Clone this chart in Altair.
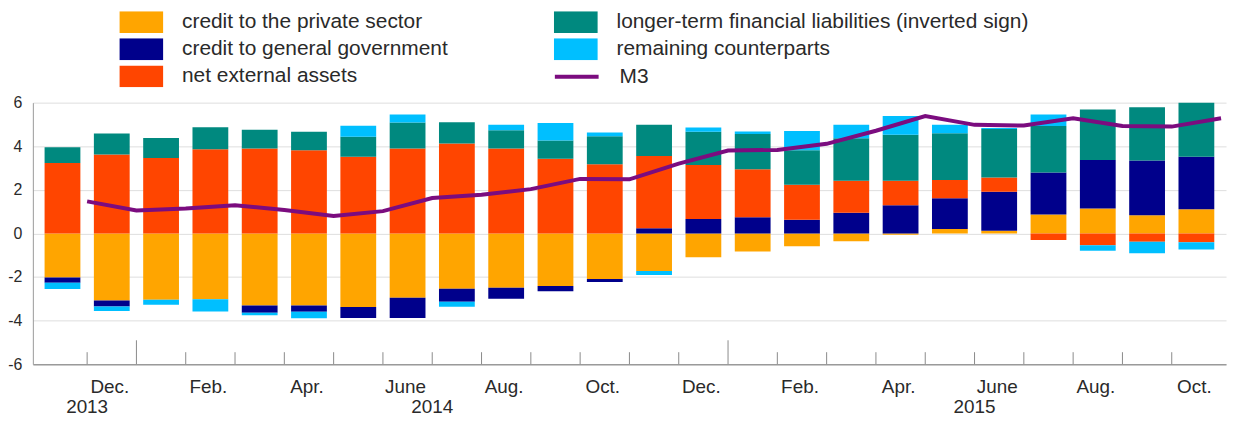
import altair as alt
import pandas as pd

# ---------------- data ----------------
months = ["Nov.", "Dec.", "Jan.", "Feb.", "Mar.", "Apr.", "May", "June", "July", "Aug.", "Sep.", "Oct.",
          "Nov.", "Dec.", "Jan.", "Feb.", "Mar.", "Apr.", "May", "June", "July", "Aug.", "Sep.", "Oct."]
years = [2013, 2013] + [2014] * 12 + [2015] * 10

series_names = [
    "credit to the private sector",
    "credit to general government",
    "net external assets",
    "longer-term financial liabilities (inverted sign)",
    "remaining counterparts",
]
private = [-2.03, -3.08, -3.05, -3.02, -3.31, -3.31, -3.38, -2.95, -2.54, -2.50, -2.41, -2.09,
           -1.73, -1.10, -0.83, -0.59, -0.36, -0.06, 0.20, 0.12, 0.87, 1.14, 0.83, 1.11]
government = [-0.23, -0.27, 0.0, 0.0, -0.33, -0.29, -0.50, -0.93, -0.60, -0.50, -0.24, -0.14,
              0.24, 0.66, 0.74, 0.62, 0.95, 1.29, 1.41, 1.79, 1.92, 2.23, 2.51, 2.41]
external = [3.23, 3.62, 3.46, 3.86, 3.89, 3.82, 3.52, 3.89, 4.12, 3.89, 3.43, 3.17,
            3.31, 2.48, 2.20, 1.61, 1.47, 1.13, 0.84, 0.65, -0.30, -0.54, -0.38, -0.41]
longer_term = [0.72, 0.96, 0.92, 1.01, 0.86, 0.84, 0.92, 1.20, 0.98, 0.84, 0.83, 1.29,
               1.43, 1.52, 1.62, 1.58, 1.94, 2.11, 2.15, 2.23, 2.14, 2.32, 2.45, 2.47]
remaining = [-0.29, -0.21, -0.23, -0.57, -0.12, -0.29, 0.50, 0.36, -0.23, 0.26, 0.81, 0.17,
             -0.18, 0.20, 0.11, 0.89, 0.63, 0.86, 0.39, 0.05, 0.53, -0.26, -0.53, -0.33]
m3_name = "M3"
m3 = [1.47, 1.05, 1.14, 1.29, 1.07, 0.80, 1.02, 1.62, 1.77, 2.03, 2.50, 2.48,
      3.20, 3.80, 3.83, 4.11, 4.71, 5.38, 4.98, 4.95, 5.28, 4.93, 4.90, 5.28]

series_values = [private, government, external, longer_term, remaining]
series_colors = ["#FFA500", "#00008B", "#FF4500", "#00897F", "#00BFFF"]
m3_color = "#7B0C7F"

# ---------------- tables ----------------
n = len(months)
rows = []
for k, (name, vals) in enumerate(zip(series_names, series_values)):
    for i, v in enumerate(vals):
        rows.append({"pos": i + 0.5, "series": name, "value": v, "ord": k})
bars_df = pd.DataFrame(rows)
line_df = pd.DataFrame({"pos": [i + 1 for i in range(n)], "value": m3, "series": m3_name})

label_df = pd.DataFrame([{"pos": i + 0.5, "label": months[i]} for i in range(1, n, 2)])
year_rows = []
for y in sorted(set(years)):
    idx = [i for i, yy in enumerate(years) if yy == y]
    year_rows.append({"pos": (min(idx) + max(idx) + 1) / 2, "label": str(y)})
year_df = pd.DataFrame(year_rows)
tick_df = pd.DataFrame([{"b": i, "major": months[i] == "Jan."} for i in range(1, n)])

cscale = alt.Scale(domain=series_names, range=series_colors)

W, H = 1200, 263
TOP = 94
FONT = "Liberation Sans"
TXT = "#2a2a2a"

bar_legend = alt.Legend(
    title=None, orient="none", legendX=87, legendY=-92, columns=2, columnPadding=106,
    rowPadding=5.3, clipHeight=22, symbolType="M-1,-0.5H1V0.5H-1Z", symbolSize=1936,
    symbolStrokeWidth=0, symbolOpacity=1, labelFontSize=21, labelFont=FONT, labelColor=TXT,
    labelOffset=19, labelLimit=700, padding=0,
)
line_legend = alt.Legend(
    title=None, orient="none", legendX=523, legendY=-37, clipHeight=22, symbolType="stroke",
    symbolSize=1936, symbolStrokeWidth=4, symbolOpacity=1, labelFontSize=21, labelFont=FONT,
    labelColor=TXT, labelOffset=19, padding=0,
)

xscale = alt.Scale(domain=[0, n], nice=False, zero=False)
yscale = alt.Scale(domain=[-6, 6], nice=False)

bars = alt.Chart(bars_df).mark_bar(size=36).encode(
    x=alt.X("pos:Q", scale=xscale,
            axis=alt.Axis(labels=False, ticks=False, grid=False, title=None,
                          domainColor="#9a9a9a", domainWidth=1.5)),
    y=alt.Y("value:Q", stack="zero", scale=yscale,
            axis=alt.Axis(values=[-6, -4, -2, 0, 2, 4, 6], title=None, ticks=False, grid=True,
                          gridColor="#dedede", domainColor="#9a9a9a", labelFontSize=16,
                          labelPadding=11, labelExpr="toString(datum.value)")),
    color=alt.Color("series:N", scale=cscale, legend=bar_legend),
    order=alt.Order("ord:Q", sort="ascending"),
)

line = alt.Chart(line_df).mark_line(strokeWidth=4).encode(
    x=alt.X("pos:Q", scale=xscale),
    y=alt.Y("value:Q", scale=yscale),
    stroke=alt.Stroke("series:N", scale=alt.Scale(domain=[m3_name], range=[m3_color]),
                      legend=line_legend),
)

minor_ticks = alt.Chart(tick_df).transform_filter("!datum.major").mark_rule(
    color="#8a8a8a", strokeWidth=1).encode(
    x=alt.X("b:Q", scale=xscale), y=alt.value(H), y2=alt.value(H - 12))
major_ticks = alt.Chart(tick_df).transform_filter("datum.major").mark_rule(
    color="#8a8a8a", strokeWidth=1).encode(
    x=alt.X("b:Q", scale=xscale), y=alt.value(H), y2=alt.value(H - 24))

month_text = alt.Chart(label_df).mark_text(
    fontSize=19, font=FONT, color=TXT, baseline="alphabetic", dx=-2).encode(
    x=alt.X("pos:Q", scale=xscale), y=alt.value(H + 29), text="label:N")
year_text = alt.Chart(year_df).mark_text(
    fontSize=19, font=FONT, color=TXT, baseline="alphabetic").encode(
    x=alt.X("pos:Q", scale=xscale), y=alt.value(H + 49), text="label:N")

chart = alt.layer(bars, minor_ticks, major_ticks, line, month_text, year_text).properties(
    width=W, height=H,
    padding={"left": 25, "top": TOP, "right": 2, "bottom": 53},
    autosize=alt.AutoSizeParams(type="none"),
).configure_view(stroke=None).configure_axis(labelFont=FONT, labelColor=TXT)

chart.save("out.html", embed_options={"renderer": "svg", "actions": False})
